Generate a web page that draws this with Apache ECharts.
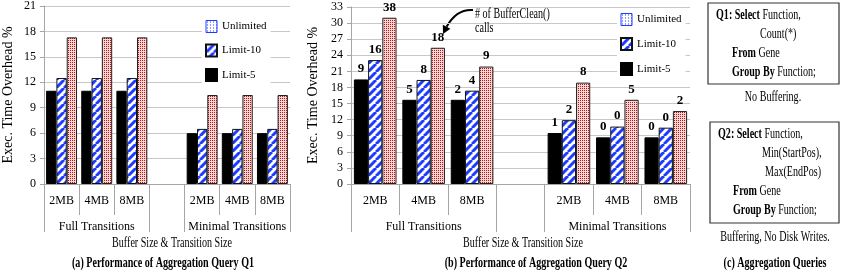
<!DOCTYPE html>
<html><head><meta charset="utf-8">
<script src="https://cdn.jsdelivr.net/npm/echarts@6/dist/echarts.min.js"></script>
<style>html,body{margin:0;padding:0;background:#fff}#c{width:845px;height:273px}</style>
</head><body><div id="c"></div>
<script>
// ---------- data ----------
const subCategories = ['2MB', '4MB', '8MB', '', '2MB', '4MB', '8MB'];
const groupCategories = ['', 'Full Transitions', '', '', '', 'Minimal Transitions', ''];
const legendOrder = ['Unlimited', 'Limit-10', 'Limit-5'];
const q1Limit5 = [11, 11, 11, null, 6, 6, 6];
const q1Limit10 = [12.5, 12.5, 12.5, null, 6.5, 6.5, 6.5];
const q1Unlimited = [17.3, 17.3, 17.3, null, 10.5, 10.5, 10.5];
const q2Limit5 = [19.5, 15.7, 15.7, null, 9.5, 8.7, 8.7];
const q2Limit10 = [23.1, 19.4, 17.4, null, 11.9, 10.7, 10.5];
const q2Unlimited = [31, 25.4, 21.9, null, 18.9, 15.7, 13.6];
const q2CallsLimit5 = [9, 5, 2, null, 1, 0, 0];
const q2CallsLimit10 = [16, 8, 4, null, 2, 0, 0];
const q2CallsUnlimited = [38, 18, 9, null, 8, 5, 2];
const q1YMax = 21, q2YMax = 33, yInterval = 3;
const q1Lines = [['{b|Q1: Select} Function,', 716, 15], ['Count(*)', 760, 34], ['{b|From} Gene', 732, 53], ['{b|Group By} Function;', 732, 72]];
const q2Lines = [['{b|Q2: Select} Function,', 718, 134], ['Min(StartPos),', 762, 153], ['Max(EndPos)', 765, 172], ['{b|From} Gene', 733, 191], ['{b|Group By} Function;', 733, 210]];

// ---------- styles ----------
const FF = '"Liberation Serif","Times New Roman",serif';
const SX = 0.72;
const GRAY = '#a6a6a6';
function stripe() {
  const s = 8, c = document.createElement('canvas'); c.width = c.height = s;
  const g = c.getContext('2d'); g.fillStyle = '#fff'; g.fillRect(0, 0, s, s);
  g.strokeStyle = '#1e3cff'; g.lineWidth = 3; g.beginPath();
  for (let k = -1; k <= 1; k++) { g.moveTo(k * s, s); g.lineTo(k * s + s, 0); }
  g.stroke(); return { image: c, repeat: 'repeat' };
}
function dots(col, bg, n) {
  const c = document.createElement('canvas'); c.width = c.height = n;
  const g = c.getContext('2d'); g.fillStyle = bg; g.fillRect(0, 0, n, n);
  g.fillStyle = col;
  if (n === 2) { g.fillRect(0, 0, 1, 1); } else { g.fillRect(1, 1, 1, 1); }
  return { image: c, repeat: 'repeat' };
}
const styles = {
  'Limit-5': { color: '#000', borderColor: '#000', borderWidth: 1 },
  'Limit-10': { color: stripe(), borderColor: '#111', borderWidth: 1 },
  'Unlimited': { color: dots('#c01010', '#f7d6d6', 2), borderColor: '#222', borderWidth: 1 }
};

function makeSeries(name, data, idx, calls) {
  const s = {
    name, type: 'bar', xAxisIndex: idx * 2, yAxisIndex: idx, data,
    barGap: '0%', barCategoryGap: '12%', itemStyle: styles[name],
    emphasis: { disabled: true }, animation: false
  };
  if (calls) {
    s.label = { show: true, position: 'top', distance: 4, fontFamily: FF, fontWeight: 'bold', fontSize: 13, color: '#000',
      formatter: p => calls[p.dataIndex] == null ? '' : String(calls[p.dataIndex]) };
  }
  return s;
}

function xAxes(g) {
  return [
    { gridIndex: g, type: 'category', data: subCategories,
      axisLine: { show: true, lineStyle: { color: GRAY } },
      axisTick: { show: true, length: 31, interval: 0, lineStyle: { color: GRAY } },
      axisLabel: { interval: 0, margin: 11, fontFamily: FF, fontSize: 12, color: '#000' },
      splitLine: { show: false } },
    { gridIndex: g, type: 'category', position: 'bottom', offset: 31, data: groupCategories,
      axisLine: { show: false },
      axisTick: { show: true, length: 17, interval: (i) => i === 0 || i === 3 || i === 4, lineStyle: { color: GRAY } },
      axisLabel: { interval: 0, margin: 6, fontFamily: FF, fontSize: 12, color: '#000' },
      splitLine: { show: false } }
  ];
}
function yAxis(g, max, gap) {
  return { gridIndex: g, type: 'value', min: 0, max, interval: yInterval,
    name: 'Exec. Time Overhead %', nameLocation: 'middle', nameGap: gap, nameRotate: 90,
    nameTextStyle: { fontFamily: FF, fontSize: 14, color: '#000' },
    axisLine: { show: true, lineStyle: { color: GRAY } },
    axisTick: { show: true, length: 4, lineStyle: { color: GRAY } },
    axisLabel: { margin: 8, fontFamily: FF, fontSize: 12, color: '#000' },
    splitLine: { show: true, lineStyle: { color: '#c8c8c8' } } };
}
function legend(left, top, gap) {
  return { left, top, orient: 'vertical', icon: 'rect', itemWidth: 11, itemHeight: 12, itemGap: gap, itemTextGap: 4,
    backgroundColor: '#fff', padding: [3, 4, 3, 3], selectedMode: false,
    textStyle: { fontFamily: FF, fontSize: 11, color: '#000' },
    data: [{ name: 'Unlimited', icon: 'rect', itemStyle: { color: dots('#1e3cff', '#ffffff', 3), borderColor: '#1e3cff', borderWidth: 1 } },
      { name: 'Limit-10', icon: 'rect' }, { name: 'Limit-5', icon: 'rect' }] };
}
function txt(text, x, y, opts) {
  opts = opts || {};
  return { type: 'text', x, y, scaleX: SX, z: 100,
    style: { text, fontFamily: FF, fontSize: opts.size || 14, fontWeight: opts.bold ? 'bold' : 'normal', fill: '#000',
      align: opts.align || 'center', textAlign: opts.align || 'center', verticalAlign: 'middle', textVerticalAlign: 'middle',
      rich: { b: { fontFamily: FF, fontSize: 14, fontWeight: 'bold', fill: '#000', color: '#000' } } } };
}

const graphic = [
  txt('Buffer Size & Transition Size', 172, 243),
  txt('Buffer Size & Transition Size', 523, 243),
  txt('(a) Performance of Aggregation Query Q1', 163, 263, { bold: true }),
  txt('(b) Performance of Aggregation Query Q2', 536, 263, { bold: true }),
  txt('(c) Aggregation Queries', 775, 263, { bold: true }),
  txt('No Buffering.', 773, 97),
  txt('Buffering, No Disk Writes.', 775, 237),
  txt('# of BufferClean()', 475, 14, { align: 'left' }),
  txt('calls', 475, 28, { align: 'left' }),
  { type: 'rect', shape: { x: 708, y: 3, width: 131, height: 81 }, style: { fill: 'none', stroke: '#333', lineWidth: 1.2 } },
  { type: 'rect', shape: { x: 710, y: 122, width: 129, height: 101 }, style: { fill: 'none', stroke: '#333', lineWidth: 1.2 } },
  { type: 'bezierCurve', shape: { x1: 473, y1: 10, cpx1: 460, cpy1: 9, cpx2: 452, cpy2: 17, x2: 446.6, y2: 26.8 }, style: { stroke: '#000', lineWidth: 2, fill: null } },
  { type: 'polygon', shape: { points: [[443, 34], [450.4, 28.8], [442.8, 24.8]] }, style: { fill: '#000' } }
];
q1Lines.concat(q2Lines).forEach(l => graphic.push(txt(l[0], l[1], l[2], { align: 'left' })));

const option = {
  backgroundColor: '#fff',
  animation: false,
  textStyle: { fontFamily: FF },
  grid: [{ left: 36, width: 254, top: 6, height: 178 }, { left: 351, width: 339, top: 7, height: 177 }],
  xAxis: xAxes(0).concat(xAxes(1)),
  yAxis: [yAxis(0, q1YMax, 29), yAxis(1, q2YMax, 31)],
  legend: [legend(202, 17, 10.5), legend(617, 10, 11)],
  series: [
    makeSeries('Limit-5', q1Limit5, 0), makeSeries('Limit-10', q1Limit10, 0), makeSeries('Unlimited', q1Unlimited, 0),
    makeSeries('Limit-5', q2Limit5, 1, q2CallsLimit5), makeSeries('Limit-10', q2Limit10, 1, q2CallsLimit10),
    makeSeries('Unlimited', q2Unlimited, 1, q2CallsUnlimited)
  ],
  graphic
};
const chart = echarts.init(document.getElementById('c'), null, { renderer: 'canvas' });
chart.setOption(option);
</script></body></html>
